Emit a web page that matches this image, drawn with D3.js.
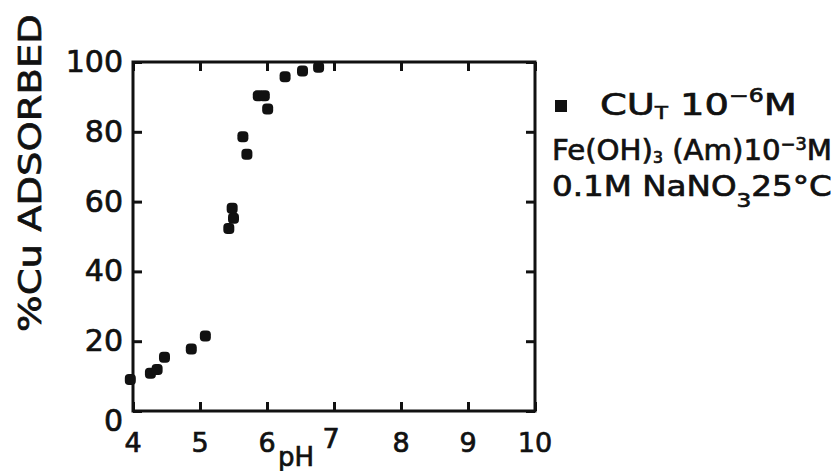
<!DOCTYPE html>
<html>
<head>
<meta charset="utf-8">
<script src="https://cdn.jsdelivr.net/npm/d3@7/dist/d3.min.js"></script>
<style>
  html, body { margin: 0; padding: 0; background: #fff; }
  svg { display: block; }
  text { font-family: "DejaVu Sans", sans-serif; fill: #111; stroke: #111; stroke-width: 0.7px; }
</style>
</head>
<body>
<svg id="chart" width="839" height="471"></svg>
<script>
// ---- data ----
const pH       = [3.96, 4.26, 4.36, 4.47, 4.87, 5.08, 5.43, 5.50, 5.48, 5.64, 5.70, 5.87, 5.96, 6.01, 6.27, 6.53, 6.77];
const cuAdsorb = [9.0, 10.8, 11.9, 15.4, 17.8, 21.5, 52.3, 55.2, 58.1, 78.6, 73.6, 90.3, 90.3, 86.5, 95.8, 97.4, 98.5];
const xTicks = [4, 5, 6, 7, 8, 9, 10];
const yTicks = [0, 20, 40, 60, 80, 100];
const xTickLabels = ["4", "5", "6", "7", "8", "9", "10"];
const yTickLabels = ["0", "20", "40", "60", "80", "100"];

const svg = d3.select("#chart");
const ink = "#111";

const x = d3.scaleLinear().domain([4, 10]).range([133, 535]);
const y = d3.scaleLinear().domain([0, 100]).range([411, 62]);

// frame
svg.append("rect")
  .attr("x", x(4)).attr("y", y(100))
  .attr("width", x(10) - x(4)).attr("height", y(0) - y(100))
  .attr("fill", "none").attr("stroke", ink).attr("stroke-width", 3);

// axes with inward ticks
const tickLen = 9;
const gBottom = svg.append("g").attr("transform", `translate(0,${y(0)})`)
  .call(d3.axisBottom(x).tickValues(xTicks).tickSize(-tickLen).tickFormat(""));
const gTop = svg.append("g").attr("transform", `translate(0,${y(100)})`)
  .call(d3.axisTop(x).tickValues(xTicks).tickSize(-tickLen).tickFormat(""));
const gLeft = svg.append("g").attr("transform", `translate(${x(4)},0)`)
  .call(d3.axisLeft(y).tickValues(yTicks).tickSize(-tickLen).tickFormat(""));
const gRight = svg.append("g").attr("transform", `translate(${x(10)},0)`)
  .call(d3.axisRight(y).tickValues(yTicks).tickSize(-tickLen).tickFormat(""));
[gBottom, gTop, gLeft, gRight].forEach(g => {
  g.select(".domain").remove();
  g.selectAll(".tick line").attr("stroke", ink).attr("stroke-width", 3);
});

// tick labels
svg.append("g").selectAll("text").data(xTicks).join("text")
  .attr("x", d => x(d) - (d === 7 ? 3 : 0))
  .attr("y", d => d === 7 ? 448 : 452)
  .attr("text-anchor", "middle")
  .attr("font-size", 27)
  .text((d, i) => xTickLabels[i]);

svg.append("g").selectAll("text").data(yTicks).join("text")
  .attr("x", 123)
  .attr("y", d => y(d) + (d === 0 ? 20 : 10))
  .attr("text-anchor", "end")
  .attr("font-size", 30)
  .text((d, i) => yTickLabels[i]);

// axis titles
svg.append("text")
  .attr("x", 296).attr("y", 466)
  .attr("text-anchor", "middle")
  .attr("font-size", 26)
  .text("pH");

const yTitle = svg.append("text")
  .attr("text-anchor", "middle")
  .attr("font-size", 32)
  .text("%Cu ADSORBED");
{
  const w = yTitle.node().getComputedTextLength();
  yTitle.attr("transform", `translate(41,173) rotate(-90) scale(${318 / w},1)`);
}

// data points
svg.append("g").selectAll("rect").data(pH).join("rect")
  .attr("x", d => x(d) - 5.5)
  .attr("y", (d, i) => y(cuAdsorb[i]) - 5.5)
  .attr("width", 11).attr("height", 11)
  .attr("rx", 4)
  .attr("fill", ink);

// legend
const leg = svg.append("g");
leg.append("rect").attr("x", 555).attr("y", 100).attr("width", 12).attr("height", 12).attr("fill", ink);

function fitLine(sel, x0, y0, width) {
  const w = sel.node().getComputedTextLength();
  sel.attr("transform", `translate(${x0},${y0}) scale(${width / w},1)`);
}

const l1 = leg.append("text").attr("font-size", 31);
l1.append("tspan").text("CU");
l1.append("tspan").attr("font-size", 17).attr("dy", 4).text("T");
l1.append("tspan").attr("dy", -4).text("  10");
l1.append("tspan").attr("font-size", 19).attr("dy", -13).text("−6");
l1.append("tspan").attr("dy", 13).text("M");
fitLine(l1, 600, 115, 197);

const l2 = leg.append("text").attr("font-size", 28);
l2.append("tspan").text("Fe(OH)");
l2.append("tspan").attr("font-size", 15).attr("dy", 3).text("3");
l2.append("tspan").attr("dy", -3).text(" (Am)10");
l2.append("tspan").attr("font-size", 17).attr("dy", -10).text("−3");
l2.append("tspan").attr("dy", 10).text("M");
fitLine(l2, 552, 160, 280);

const l3 = leg.append("text").attr("font-size", 28);
l3.append("tspan").text("0.1M NaNO");
l3.append("tspan").attr("font-size", 20).attr("dy", 11).text("3");
l3.append("tspan").attr("dy", -11).text("25°C");
fitLine(l3, 552, 196, 280);
</script>
</body>
</html>
